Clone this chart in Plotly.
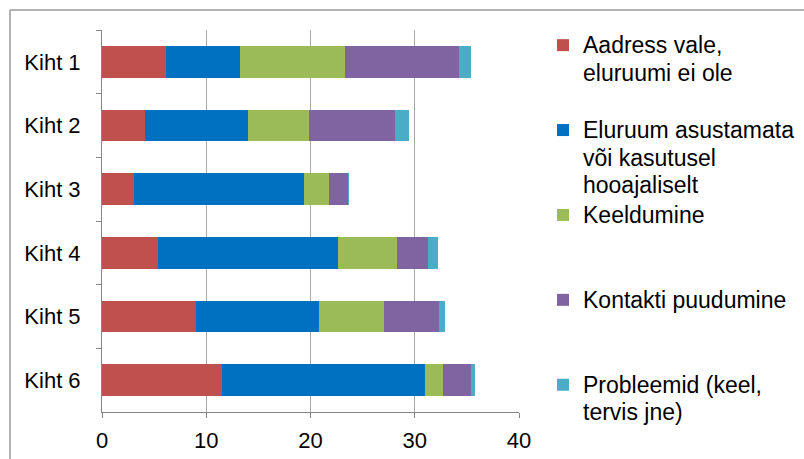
import plotly.graph_objects as go

# andmed (loetud jooniselt)
kihid = ["Kiht 1", "Kiht 2", "Kiht 3", "Kiht 4", "Kiht 5", "Kiht 6"]

aadress_vale = [6.1, 4.1, 3.1, 5.35, 9.0, 11.5]
asustamata = [7.15, 9.9, 16.3, 17.3, 11.85, 19.5]
keeldumine = [10.1, 5.9, 2.35, 5.6, 6.2, 1.7]
kontakt_puudub = [10.9, 8.2, 1.85, 3.0, 5.25, 2.65]
probleemid = [1.1, 1.35, 0.05, 1.0, 0.6, 0.4]

nimed = [
    "Aadress vale,<br>eluruumi ei ole",
    "Eluruum asustamata<br>või kasutusel<br>hooajaliselt",
    "Keeldumine",
    "Kontakti puudumine",
    "Probleemid (keel,<br>tervis jne)",
]
varvid = ["#C0504D", "#0070C0", "#9BBB59", "#8064A2", "#4BACC6"]
seeriad = [aadress_vale, asustamata, keeldumine, kontakt_puudub, probleemid]


def polsterda(tekst, read=3):
    # legendi kirjed ühekõrguseks (nagu Excelis), tekst veidi suurem
    n = tekst.count("<br>") + 1
    read_ = ["<span style='font-size:23px'>%s</span>" % r for r in tekst.split("<br>")]
    return "<br>".join(read_) + "<br> " * (read - n)


fig = go.Figure()
for nimi, v, c in zip(nimed, seeriad, varvid):
    fig.add_trace(go.Bar(
        y=kihid, x=v, name=polsterda(nimi), orientation="h",
        marker=dict(color=c, line=dict(width=0)),
    ))

W, H = 804, 459
L, R, T, B = 102, 519, 30, 412
pw, ph = R - L, B - T

fig.update_layout(
    width=W, height=H,
    barmode="stack", bargap=0.5,
    margin=dict(l=L, r=W - R, t=T, b=H - B, autoexpand=False),
    plot_bgcolor="white", paper_bgcolor="white",
    font=dict(family="Arial, Liberation Sans", size=22, color="black"),
    xaxis=dict(
        range=[0, 40], dtick=10, tick0=0,
        showgrid=True, gridcolor="#A6A6A6", gridwidth=1,
        showline=True, linecolor="#868686", linewidth=1,
        ticks="outside", ticklen=5, tickcolor="#868686",
        ticklabelstandoff=4,
        zeroline=False, fixedrange=True,
    ),
    yaxis=dict(
        autorange="reversed",
        showline=True, linecolor="#868686", linewidth=1,
        ticks="outside", ticklen=5, tickcolor="#868686",
        tickson="boundaries", ticklabelstandoff=16,
        showgrid=False, fixedrange=True,
    ),
    legend=dict(
        x=(543 - L) / pw, xanchor="left",
        y=(B - 25) / ph, yanchor="top",
        traceorder="normal", valign="top",
        font=dict(size=21), tracegroupgap=0,
        bgcolor="rgba(0,0,0,0)", maxheight=H,
    ),
    showlegend=True,
)

# diagrammi raam (ülemine ja vasak serv)
bx, by = (10 - L) / pw, (B - 10) / ph
fig.add_shape(type="line", xref="paper", yref="paper",
              x0=bx, y0=by, x1=(W + 5 - L) / pw, y1=by,
              line=dict(color="#999999", width=1.5))
fig.add_shape(type="line", xref="paper", yref="paper",
              x0=bx, y0=by, x1=bx, y1=(B - H - 5) / ph,
              line=dict(color="#999999", width=1.5))

fig.write_html("out.html", config={"displayModeBar": False},
               post_script="document.body.style.margin='0';")
